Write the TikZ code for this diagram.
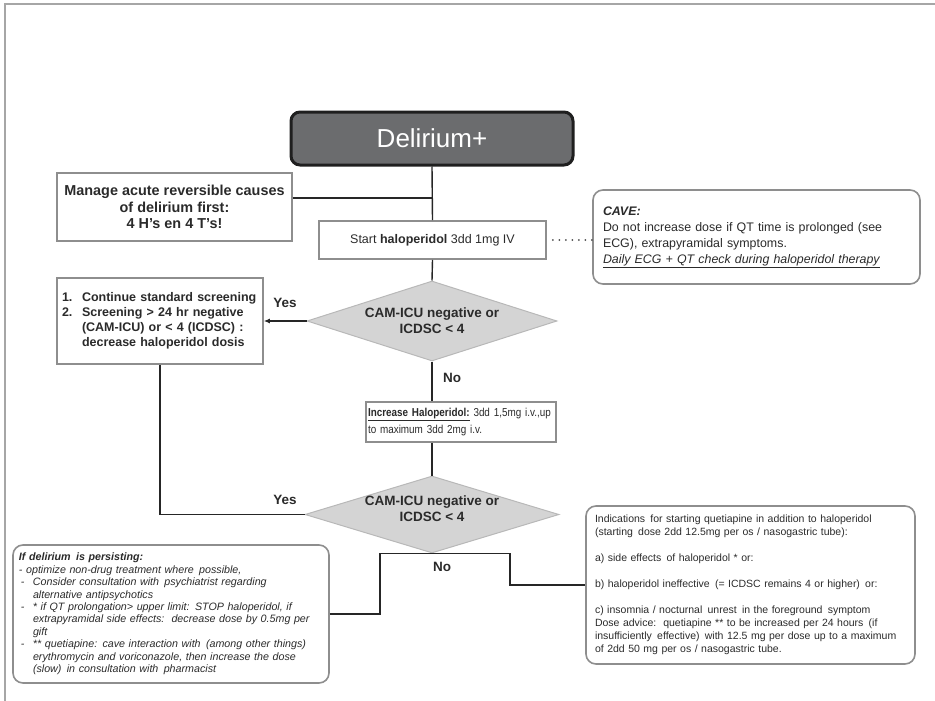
\documentclass[tikz,border=0pt]{standalone}
\usepackage{fontspec}
\setmainfont{Liberation Sans}
\newfontfamily\narrowsans{Liberation Sans}[FakeStretch=0.86]
\usetikzlibrary{shapes.geometric,arrows.meta}
\definecolor{boxline}{HTML}{8E8E8E}
\definecolor{darkfill}{HTML}{6B6C6E}
\definecolor{diafill}{HTML}{D4D4D4}
\definecolor{textgray}{HTML}{2A2A2A}
\def\fs#1#2{\fontsize{#1}{#2}\selectfont}

\begin{document}
\begin{tikzpicture}[x=1pt,y=-1pt,
	box/.style={draw=boxline, line width=1.6pt, inner sep=0pt, text=textgray},
	softbox/.style={box, rounded corners=10pt},
	decision/.style={diamond, aspect=3.2, draw=black!28, fill=diafill, line width=1pt, inner sep=0pt,
		minimum width=250pt, minimum height=80pt},
	decisiontext/.style={align=center, font=\bfseries\fs{13.5}{16}, text=textgray},
	conn/.style={line width=1.4pt, color=black!85},
	answer/.style={font=\bfseries\fs{13.5}{16}, text=textgray}]
	%%%%% START %%%%%
	
	\useasboundingbox (0,0) rectangle (935,701);
	\draw[line width=1.5pt, color=black!35] (935,4) -- (5,4) -- (5,701);
	
	\node[fill=darkfill, draw=black!88, line width=3pt, rounded corners=9pt, minimum width=282pt,
		minimum height=53pt, text=white, font=\fs{26}{30}] (delirium) at (432,138.5) {Delirium+};
	
	\node[box, minimum width=235pt, minimum height=68pt, align=center, font=\bfseries\fs{14.4}{16.5}]
		(manage) at (174.5,207) {Manage acute reversible causes\\of delirium first:\\4 H's en 4 T's!};
	
	\node[box, minimum width=227pt, minimum height=38pt, font=\fs{12.5}{15}] (start) at (432.5,240)
		{Start \textbf{haloperidol} 3dd 1mg IV};
	
	\node[softbox, minimum width=327pt, minimum height=94pt, text width=307pt, align=left,
		font=\fs{12.4}{16}] (cave) at (756.5,237)
		{\textbf{\textit{CAVE:}}\\Do not increase dose if QT time is prolonged (see\\ECG), extrapyramidal symptoms.\\
		\underline{\textit{Daily ECG + QT check during haloperidol therapy}}};
	
	\node[decision] (dia1) at (432,321) {};
	\node[decisiontext] at (dia1) {CAM-ICU negative or\\ICDSC < 4};
	
	\node[box, minimum width=206pt, minimum height=86pt, text width=196pt, align=left,
		font=\bfseries\fs{12.5}{15}] (screen) at (160,321)
		{\makebox[20pt][l]{1.}Continue standard screening\\
		\makebox[20pt][l]{2.}Screening > 24 hr negative\\
		\hspace*{20pt}(CAM-ICU) or < 4 (ICDSC) :\\
		\hspace*{20pt}decrease haloperidol dosis};
	
	\node[box, minimum width=190pt, minimum height=40pt, text width=186pt, align=left,
		font=\narrowsans\fs{11.5}{17}] (increase) at (461,422)
		{\underline{\textbf{Increase Haloperidol:}} 3dd 1,5mg i.v.,up\\to maximum 3dd 2mg i.v.};
	
	\node[decision, minimum width=254pt, minimum height=77pt] (dia2) at (432,514.5) {};
	\node[decisiontext] at ([yshift=6pt]dia2) {CAM-ICU negative or\\ICDSC < 4};
	
	\node[softbox, minimum width=316pt, minimum height=138pt, text width=304pt, align=left,
		font=\itshape\fs{10.7}{12.4}] (persist) at (171,614)
		{\textbf{If delirium\, is persisting:}\\
		- optimize non-drug treatment where\, possible,\\
		\makebox[14pt][l]{\,-}Consider consultation with\, psychiatrist regarding\\
		\hspace*{14pt}alternative antipsychotics\\
		\makebox[14pt][l]{\,-}* if QT prolongation> upper limit: STOP haloperidol, if\\
		\hspace*{14pt}extrapyramidal side effects:\, decrease dose by 0.5mg per\\
		\hspace*{14pt}gift\\
		\makebox[14pt][l]{\,-}** quetiapine: cave interaction with\, (among other things)\\
		\hspace*{14pt}erythromycin and voriconazole, then increase the dose\\
		\hspace*{14pt}(slow)\, in consultation with\, pharmacist};
	
	\node[softbox, minimum width=329pt, minimum height=158pt, text width=311pt, align=left,
		font=\fs{10.5}{13}] (indic) at (750.5,585)
		{Indications\, for starting quetiapine in addition to haloperidol\\
		(starting\, dose 2dd 12.5mg per os / nasogastric tube):\\[13pt]
		a) side effects\, of haloperidol * or:\\[13pt]
		b) haloperidol ineffective\, (= ICDSC remains 4 or higher)\, or:\\[13pt]
		c) insomnia / nocturnal\, unrest\, in the foreground\, symptom\\
		Dose advice:\, quetiapine ** to be increased per 24 hours\, (if\\
		insufficiently\, effective)\, with 12.5 mg per dose up to a maximum\\
		of 2dd 50 mg per os / nasogastric tube.};
	
	% labels
	\node[answer] (yes1) at (285,303) {Yes};
	\node[answer] (no1) at (452,378) {No};
	\node[answer] (yes2) at (285,500) {Yes};
	\node[answer] (no2) at (442,567) {No};
	
	% connectors
	\coordinate (j1) at (432,198);
	\draw[conn] (delirium.south) -- (start.north);
	\draw[conn] (manage.east |- j1) -- (j1);
	\draw[line width=2pt, color=black!70, line cap=round, dash pattern=on 0pt off 6.5pt]
		([xshift=6pt]start.east) -- (cave.west |- start.east);
	\draw[conn] (start.south) -- (dia1.north);
	\draw[conn, -{Latex[length=6pt,width=5pt]}] (dia1.west) -- (screen.east);
	\draw[conn] (dia1.south) -- (dia1.south |- increase.north);
	\draw[conn] (dia1.south |- increase.south) -- (dia2.north);
	\draw[conn] (dia2.west) -| (screen.south);
	\draw[conn] (persist.east) -| ([xshift=-52pt]dia2.south) -- ([xshift=78pt]dia2.south) |- (indic.west);
	
	%%%%% END %%%%%
\end{tikzpicture}
\end{document}
